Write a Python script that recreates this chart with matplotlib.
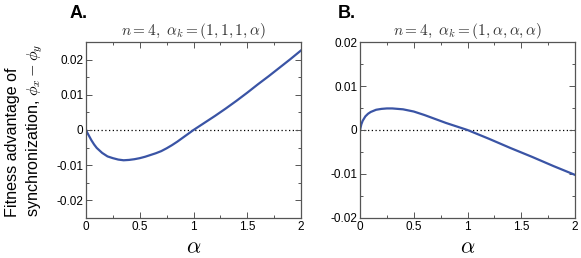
import matplotlib
matplotlib.use("Agg")
import matplotlib.pyplot as plt
from matplotlib.ticker import MultipleLocator

plt.rcParams['font.family'] = ['Liberation Sans', 'DejaVu Sans']
plt.rcParams['mathtext.fontset'] = 'cm'

alpha_a = [0, 0.0125, 0.025, 0.05, 0.075, 0.1, 0.15, 0.2, 0.25, 0.3, 0.35, 0.4, 0.45,
           0.5, 0.55, 0.6, 0.65, 0.7, 0.75, 0.8, 0.85, 0.9, 0.95, 1.0, 1.1, 1.2, 1.3,
           1.4, 1.5, 1.6, 1.7, 1.8, 1.9, 2.0]
phi_a = [0, -0.0008, -0.0015, -0.0029, -0.0041, -0.0051, -0.0065, -0.0075, -0.0080,
         -0.0084, -0.0086, -0.0085, -0.0083, -0.0080, -0.0076, -0.0071, -0.0066,
         -0.0060, -0.0052, -0.0043, -0.0033, -0.0022, -0.0011, 0.0, 0.0020, 0.0040,
         0.0061, 0.0083, 0.0106, 0.0130, 0.0153, 0.0177, 0.0201, 0.0226]

alpha_b = [0, 0.0125, 0.025, 0.05, 0.075, 0.1, 0.15, 0.2, 0.25, 0.3, 0.35, 0.4, 0.5,
           0.6, 0.7, 0.8, 0.9, 1.0, 1.1, 1.2, 1.4, 1.6, 1.8, 2.0]
phi_b = [0, 0.0013, 0.0021, 0.0031, 0.0037, 0.0041, 0.0046, 0.0048, 0.0049, 0.0049,
         0.0048, 0.0047, 0.0042, 0.0034, 0.0025, 0.0016, 0.0008, 0.0, -0.0010,
         -0.0020, -0.0041, -0.0061, -0.0082, -0.0102]

xticks = [0, 0.5, 1, 1.5, 2]
xticklabels = ["0", "0.5", "1", "1.5", "2"]
yticks = [-0.02, -0.01, 0, 0.01, 0.02]
yticklabels = ["-0.02", "-0.01", "0", "0.01", "0.02"]

titles = [r"$n=4,\ \alpha_k=(1,1,1,\alpha)$", r"$n=4,\ \alpha_k=(1,\alpha,\alpha,\alpha)$"]
panel_labels = ["A.", "B."]

W, H = 581, 258
fig = plt.figure(figsize=(W / 100, H / 100), dpi=100)
line_color = "#3a54a5"
spine_color = "#555555"

axA = fig.add_axes([86 / W, (H - 218) / H, 215 / W, 176 / H])
axB = fig.add_axes([360 / W, (H - 218) / H, 215 / W, 176 / H])

for ax, xs, ys, ylim, title in [
    (axA, alpha_a, phi_a, 0.025, titles[0]),
    (axB, alpha_b, phi_b, 0.02, titles[1]),
]:
    ax.axhline(0, color="black", lw=0.9, ls=(0, (1, 2)), zorder=1)
    ax.plot(xs, ys, color=line_color, lw=1.6, zorder=2, solid_joinstyle="round")
    ax.set_xlim(0, 2)
    ax.set_ylim(-ylim, ylim)
    ax.set_xticks(xticks)
    ax.set_xticklabels(xticklabels)
    ax.set_yticks(yticks)
    ax.set_yticklabels(yticklabels)
    ax.xaxis.set_minor_locator(MultipleLocator(0.25))
    ax.yaxis.set_minor_locator(MultipleLocator(0.005))
    ax.tick_params(which="both", direction="in", top=True, right=True,
                   color=spine_color, width=0.7, labelsize=8.5, pad=2)
    ax.tick_params(which="major", length=4)
    ax.tick_params(which="minor", length=2.5)
    for s in ax.spines.values():
        s.set_color(spine_color)
        s.set_linewidth(0.9)
    ax.set_title(title, fontsize=11, color="#333333", pad=5)
    ax.set_xlabel(r"$\alpha$", fontsize=16, labelpad=3)

fig.text(70 / W, 1 - 13 / H, panel_labels[0], fontsize=13, fontweight="bold", va="center", ha="left")
fig.text(338 / W, 1 - 13 / H, panel_labels[1], fontsize=13, fontweight="bold", va="center", ha="left")

axA.set_ylabel("Fitness advantage of\nsynchronization, $\\phi_x - \\phi_y$",
               fontsize=11.6, labelpad=8, linespacing=1.3, multialignment="left")

fig.savefig("out.png", dpi=100)
